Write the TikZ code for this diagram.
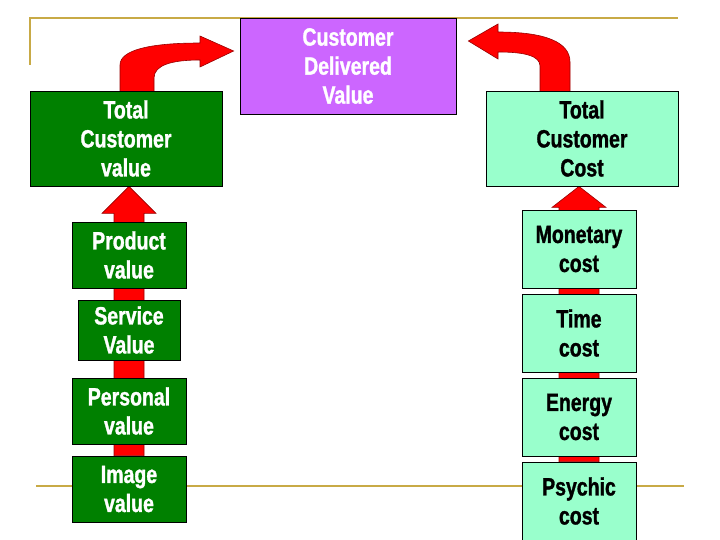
\documentclass[tikz,border=0pt]{standalone}
\usepackage{fontspec}
\newfontfamily\impactfont[FakeStretch=0.78,FakeBold=1.2]{Liberation Sans}
\usetikzlibrary{calc,backgrounds}
\definecolor{gold}{RGB}{200,170,70}
\definecolor{darkgreen}{RGB}{0,128,0}
\definecolor{lilac}{RGB}{204,102,255}
\definecolor{aqua}{RGB}{153,255,204}
\definecolor{arrowred}{RGB}{255,0,0}
\definecolor{arrowedge}{RGB}{150,0,0}
\tikzset{
  box/.style={draw=black, line width=0.8pt, inner sep=0pt, align=center,
    font=\impactfont\bfseries\fontsize{25}{29}\selectfont},
  valbox/.style={box, fill=darkgreen, text=white},
  costbox/.style={box, fill=aqua, text=black},
  cdvbox/.style={box, fill=lilac, text=white},
  goldline/.style={draw=gold, line width=2pt},
  redarrow/.style={fill=arrowred, draw=arrowedge, line width=0.6pt, line join=miter}
}
\begin{document}
\begin{tikzpicture}[x=1pt,y=-1pt]
\useasboundingbox (0,0) rectangle (720,540);
% nodes
\node[valbox, minimum width=192pt, minimum height=95pt] (tcv) at (126,138.5) {Total\\Customer\\value};
\node[cdvbox, minimum width=216pt, minimum height=96pt] (cdv) at (348,66) {Customer\\Delivered\\Value};
\node[costbox, minimum width=192pt, minimum height=95pt] (tcc) at (582,138.5) {Total\\Customer\\Cost};
\node[valbox, minimum width=114pt, minimum height=66pt] (pv) at (129,255) {Product\\value};
\node[valbox, minimum width=102pt, minimum height=60pt] (sv) at (129,330) {Service\\Value};
\node[valbox, minimum width=114pt, minimum height=66pt] (perv) at (129,411) {Personal\\value};
\node[valbox, minimum width=114pt, minimum height=66pt] (iv) at (129,489) {Image\\value};
\node[costbox, minimum width=114pt, minimum height=78pt] (mc) at (579,249) {Monetary\\cost};
\node[costbox, minimum width=114pt, minimum height=78pt] (tc) at (579,333) {Time\\cost};
\node[costbox, minimum width=114pt, minimum height=78pt] (ec) at (579,417) {Energy\\cost};
\node[costbox, minimum width=114pt, minimum height=78pt] (pc) at (579,501) {Psychic\\cost};
\begin{scope}[on background layer]
  % gold frame lines
  \draw[goldline] (30,65) -- (30,18) -- (678,18);
  \draw[goldline] (36,486) -- (684,486);
  % left vertical arrow: from image value up to total customer value
  \coordinate (ltip) at (tcv.south -| iv.north);
  \path[redarrow] (ltip) -- ($(ltip)+(27,27)$) -- ($(ltip)+(15,27)$)
    -- ($(iv.north)+(15,0)$) -- ($(iv.north)+(-15,0)$)
    -- ($(ltip)+(-15,27)$) -- ($(ltip)+(-27,27)$) -- cycle;
  % right vertical arrow: from psychic cost up to total customer cost
  \coordinate (rtip) at (tcc.south -| pc.north);
  \path[redarrow] (rtip) -- ($(rtip)+(27,21)$) -- ($(rtip)+(20,21)$)
    -- ($(pc.north)+(20,0)$) -- ($(pc.north)+(-20,0)$)
    -- ($(rtip)+(-20,21)$) -- ($(rtip)+(-27,21)$) -- cycle;
  % curved arrow: total customer value -> customer delivered value
  \coordinate (lcs) at ($(tcv.north)+(-6,3)$);
  \coordinate (lct) at ($(cdv.west)+(-6,-15)$);
  \path[redarrow] (lcs) -- (120,65) .. controls (120,50) and (150,43) .. (200,43)
    -- (200,36) -- (lct) -- (200,67) -- (200,60)
    .. controls (172,60) and (154,65) .. (154,78) -- ($(lcs)+(34,0)$) -- cycle;
  % curved arrow: total customer cost -> customer delivered value
  \coordinate (rcs) at ($(tcc.north)+(-42,3)$);
  \coordinate (rct) at ($(cdv.east)+(12,-25)$);
  \path[redarrow] (rcs) -- (540,66) .. controls (540,56) and (525,52) .. (498,52)
    -- (498,59) -- (rct) -- (498,24) -- (498,32)
    .. controls (545,32) and (570,42) .. (570,62) -- ($(rcs)+(30,0)$) -- cycle;
\end{scope}
\end{tikzpicture}
\end{document}
